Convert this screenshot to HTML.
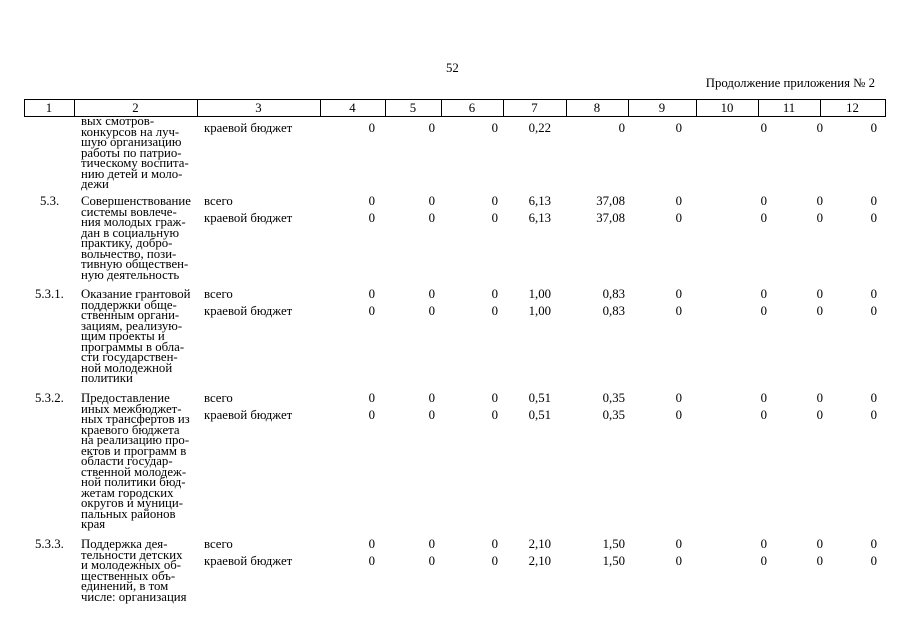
<!DOCTYPE html>
<html><head><meta charset="utf-8"><style>
body{margin:0;width:905px;height:640px;background:#fff;position:relative;overflow:hidden;font-family:"Liberation Serif","DejaVu Serif",serif;font-size:12.8px;color:#000}
.a{position:absolute;line-height:10.5px;white-space:nowrap}
.r{position:absolute;line-height:10.5px;text-align:right;width:60px}
.hl{position:absolute;left:24px;width:861px;height:1px;background:#000}
.vl{position:absolute;top:99px;height:18px;width:1px;background:#000}
.h{position:absolute;top:100px;line-height:16px;text-align:center}
</style></head><body>
<div class="a" style="left:446px;top:63px">52</div>
<div class="a" style="right:30px;top:78px">Продолжение приложения № 2</div>
<div class="hl" style="top:99px"></div><div class="hl" style="top:116px"></div>
<div class="vl" style="left:24px"></div><div class="vl" style="left:74px"></div><div class="vl" style="left:197px"></div><div class="vl" style="left:320px"></div><div class="vl" style="left:385px"></div><div class="vl" style="left:441px"></div><div class="vl" style="left:503px"></div><div class="vl" style="left:566px"></div><div class="vl" style="left:628px"></div><div class="vl" style="left:696px"></div><div class="vl" style="left:758px"></div><div class="vl" style="left:820px"></div><div class="vl" style="left:885px"></div>
<div class="h" style="left:24px;width:50px">1</div><div class="h" style="left:74px;width:123px">2</div><div class="h" style="left:197px;width:123px">3</div><div class="h" style="left:320px;width:65px">4</div><div class="h" style="left:385px;width:56px">5</div><div class="h" style="left:441px;width:62px">6</div><div class="h" style="left:503px;width:63px">7</div><div class="h" style="left:566px;width:62px">8</div><div class="h" style="left:628px;width:68px">9</div><div class="h" style="left:696px;width:62px">10</div><div class="h" style="left:758px;width:62px">11</div><div class="h" style="left:820px;width:65px">12</div>

<div class="a" style="left:81px;top:116px">вых смотров-<br>конкурсов на луч-<br>шую организацию<br>работы по патрио-<br>тическому воспита-<br>нию детей и моло-<br>дежи</div>
<div class="a" style="left:204px;top:123px">краевой бюджет</div>

<div class="a" style="left:40px;top:196px">5.3.</div>
<div class="a" style="left:81px;top:196px">Совершенствование<br>системы вовлече-<br>ния молодых граж-<br>дан в социальную<br>практику, добро-<br>вольчество, пози-<br>тивную обществен-<br>ную деятельность</div>
<div class="a" style="left:204px;top:196px">всего</div><div class="a" style="left:204px;top:213px">краевой бюджет</div>

<div class="a" style="left:35px;top:289px">5.3.1.</div>
<div class="a" style="left:81px;top:289px">Оказание грантовой<br>поддержки обще-<br>ственным органи-<br>зациям, реализую-<br>щим проекты и<br>программы в обла-<br>сти государствен-<br>ной молодежной<br>политики</div>
<div class="a" style="left:204px;top:289px">всего</div><div class="a" style="left:204px;top:306px">краевой бюджет</div>

<div class="a" style="left:35px;top:393px">5.3.2.</div>
<div class="a" style="left:81px;top:393px">Предоставление<br>иных межбюджет-<br>ных трансфертов из<br>краевого бюджета<br>на реализацию про-<br>ектов и программ в<br>области государ-<br>ственной молодеж-<br>ной политики бюд-<br>жетам городских<br>округов и муници-<br>пальных районов<br>края</div>
<div class="a" style="left:204px;top:393px">всего</div><div class="a" style="left:204px;top:410px">краевой бюджет</div>

<div class="a" style="left:35px;top:539px">5.3.3.</div>
<div class="a" style="left:81px;top:539px">Поддержка дея-<br>тельности детских<br>и молодежных об-<br>щественных объ-<br>единений, в том<br>числе: организация</div>
<div class="a" style="left:204px;top:539px">всего</div><div class="a" style="left:204px;top:556px">краевой бюджет</div>

<div id="vals"></div>
<script>
var rights=[375,435,498,551,625,682,767,823,877];
var rows=[[123,["0","0","0","0,22","0","0","0","0","0"]],
[196,["0","0","0","6,13","37,08","0","0","0","0"]],
[213,["0","0","0","6,13","37,08","0","0","0","0"]],
[289,["0","0","0","1,00","0,83","0","0","0","0"]],
[306,["0","0","0","1,00","0,83","0","0","0","0"]],
[393,["0","0","0","0,51","0,35","0","0","0","0"]],
[410,["0","0","0","0,51","0,35","0","0","0","0"]],
[539,["0","0","0","2,10","1,50","0","0","0","0"]],
[556,["0","0","0","2,10","1,50","0","0","0","0"]]];
var h="";rows.forEach(function(r){r[1].forEach(function(v,i){h+='<div class="r" style="left:'+(rights[i]-60)+'px;top:'+r[0]+'px">'+v+'</div>';});});
document.getElementById("vals").innerHTML=h;
</script>
</body></html>
